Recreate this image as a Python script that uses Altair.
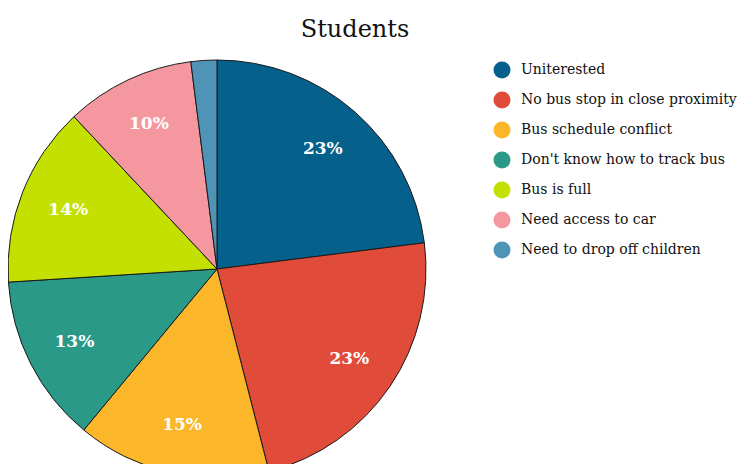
import altair as alt
import pandas as pd

categories = [
    "Uniterested",
    "No bus stop in close proximity",
    "Bus schedule conflict",
    "Don't know how to track bus",
    "Bus is full",
    "Need access to car",
    "Need to drop off children",
]
values = [23, 23, 15, 13, 14, 10, 2]
colors = ["#06608c", "#e14b3a", "#fbb729", "#2a9988", "#c3e000", "#f4979f", "#4f93b6"]

df = pd.DataFrame({
    "category": categories,
    "value": values,
    "order": list(range(len(categories))),
})

SERIF = "DejaVu Serif"

base = alt.Chart(df).encode(
    theta=alt.Theta("value:Q", stack=True),
    order=alt.Order("order:Q"),
)

pie = base.mark_arc(radius=209, stroke="#1a1a1a", strokeWidth=1).encode(
    color=alt.Color(
        "category:N",
        scale=alt.Scale(domain=categories, range=colors),
        sort=categories,
        legend=alt.Legend(
            title=None,
            orient="none",
            legendX=485,
            legendY=-13,
            symbolType="circle",
            symbolSize=290,
            symbolStrokeWidth=0,
            labelFont=SERIF,
            labelFontSize=14,
            labelColor="#111111",
            labelOffset=10,
            rowPadding=12,
            labelLimit=300,
            padding=0,
        ),
    )
)

labels = base.transform_filter("datum.value >= 5").transform_calculate(
    label="datum.value + '%'"
).mark_text(
    radius=160, font=SERIF, fontSize=17, fontWeight="bold", color="white"
).encode(text="label:N")

chart = alt.layer(pie, labels).properties(
    width=418,
    height=390,
    title=alt.TitleParams(
        "Students",
        font=SERIF,
        fontSize=24,
        fontWeight="normal",
        color="#111111",
        anchor="middle",
        frame="group",
        dx=138,
        offset=16,
    ),
    autosize=alt.AutoSizeParams(type="none"),
    padding={"left": 0, "top": 66, "right": 313, "bottom": 0},
).configure_view(stroke=None)

chart.save("out.html", embed_options={"renderer": "svg", "actions": False})
